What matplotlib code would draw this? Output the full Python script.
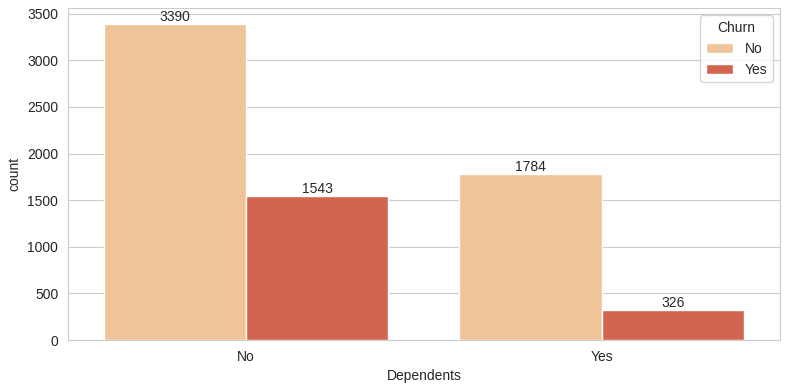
import matplotlib
matplotlib.use("Agg")
import matplotlib.pyplot as plt
import seaborn as sns
import pandas as pd

dependents = ["No", "No", "Yes", "Yes"]
churn = ["No", "Yes", "No", "Yes"]
counts = [3390, 1543, 1784, 326]
colors = ["#efc498", "#d3644f"]

sns.set_style("whitegrid")
plt.rcParams['font.family'] = ['Liberation Sans', 'DejaVu Sans']

df = pd.DataFrame({"Dependents": dependents, "Churn": churn, "count": counts})

fig, ax = plt.subplots(figsize=(7.9, 3.9), dpi=100)
sns.barplot(data=df, x="Dependents", y="count", hue="Churn", palette=colors,
            saturation=1, ax=ax)
for c in ax.containers:
    ax.bar_label(c, fontsize=10)
ax.legend(title="Churn", loc="upper right")
fig.subplots_adjust(left=0.086, right=0.987, top=0.979, bottom=0.128)
plt.savefig("out.png")
